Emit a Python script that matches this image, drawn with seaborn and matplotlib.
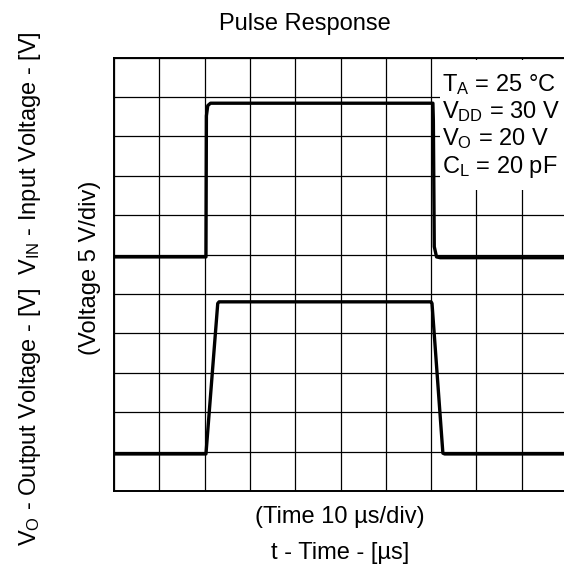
import numpy as np
import pandas as pd
import matplotlib.pyplot as plt
from matplotlib.patches import Rectangle
import seaborn as sns

# input pulse (top trace), time in us, voltage in V (5 V/div, 11 div shown)
t_in = [0, 20.3, 20.4, 20.7, 21.3, 70.4, 70.5, 70.7, 71.2, 72.0, 100]
v_in = [29.7, 29.7, 47.6, 48.9, 49.2, 49.2, 47.0, 31.0, 29.7, 29.6, 29.6]

# output pulse (bottom trace)
t_out = [0, 20.3, 22.9, 23.2, 70.0, 70.2, 72.6, 73.0, 100]
v_out = [4.7, 4.7, 23.8, 24.0, 24.0, 23.8, 4.8, 4.7, 4.7]

conditions = [r'T$_\mathrm{A}$ = 25 °C', r'V$_\mathrm{DD}$ = 30 V',
              r'V$_\mathrm{O}$ = 20 V', r'C$_\mathrm{L}$ = 20 pF']

sns.set_theme(style='white')
plt.rcParams['font.family'] = ['Liberation Sans', 'DejaVu Sans']
plt.rcParams['mathtext.fontset'] = 'custom'
plt.rcParams['mathtext.rm'] = 'Liberation Sans'
plt.rcParams['mathtext.it'] = 'Liberation Sans:italic'
plt.rcParams['text.color'] = 'black'

fs = 17

fig = plt.figure(figsize=(5.64, 5.70), dpi=100)
ax = fig.add_axes([114/564, 79/570, 453/564, 433.5/570])

dfIn = pd.DataFrame({'t': t_in, 'v': v_in})
dfOut = pd.DataFrame({'t': t_out, 'v': v_out})
sns.lineplot(data=dfIn, x='t', y='v', sort=False, estimator=None, color='black', lw=2.4, ax=ax, zorder=3)
sns.lineplot(data=dfOut, x='t', y='v', sort=False, estimator=None, color='black', lw=2.4, ax=ax, zorder=3)

ax.set_xlim(0, 100)
ax.set_ylim(0, 55)
ax.set_xticks(np.arange(0, 101, 10))
ax.set_yticks(np.arange(0, 56, 5))
ax.set_xticklabels([])
ax.set_yticklabels([])
ax.tick_params(length=0)
ax.set_axisbelow(True)
ax.grid(True, color='black', lw=0.9)
ax.set_xlabel('')
ax.set_ylabel('')
for s in ax.spines.values():
    s.set_color('black')
    s.set_linewidth(1.4)

# white box behind the conditions text
ax.add_patch(Rectangle((0.720, 0.695), 0.4, 0.3, transform=ax.transAxes,
                       facecolor='white', edgecolor='none', zorder=1, clip_on=False))
for i, c in enumerate(conditions):
    ax.text(0.724, 0.923 - i * 0.063, c, transform=ax.transAxes, fontsize=fs,
            ha='left', va='baseline', zorder=4)

fig.text(304.5/564, 1 - 30/570, 'Pulse Response', ha='center', va='baseline', fontsize=fs)
fig.text(340/564, 1 - 523/570, '(Time 10 µs/div)', ha='center', va='baseline', fontsize=fs)
fig.text(340/564, 1 - 559/570, 't - Time - [µs]', ha='center', va='baseline', fontsize=fs)
fig.text(90/564, 1 - 268/570, '(Voltage 5 V/div)', ha='center', va='center', rotation=90, fontsize=fs)
fig.text(30/564, 1 - 289/570,
         r'V$_\mathrm{O}$ - Output Voltage - [V]  V$_\mathrm{IN}$ - Input Voltage - [V]',
         ha='center', va='center', rotation=90, fontsize=fs)

fig.savefig('out.png', dpi=100)
